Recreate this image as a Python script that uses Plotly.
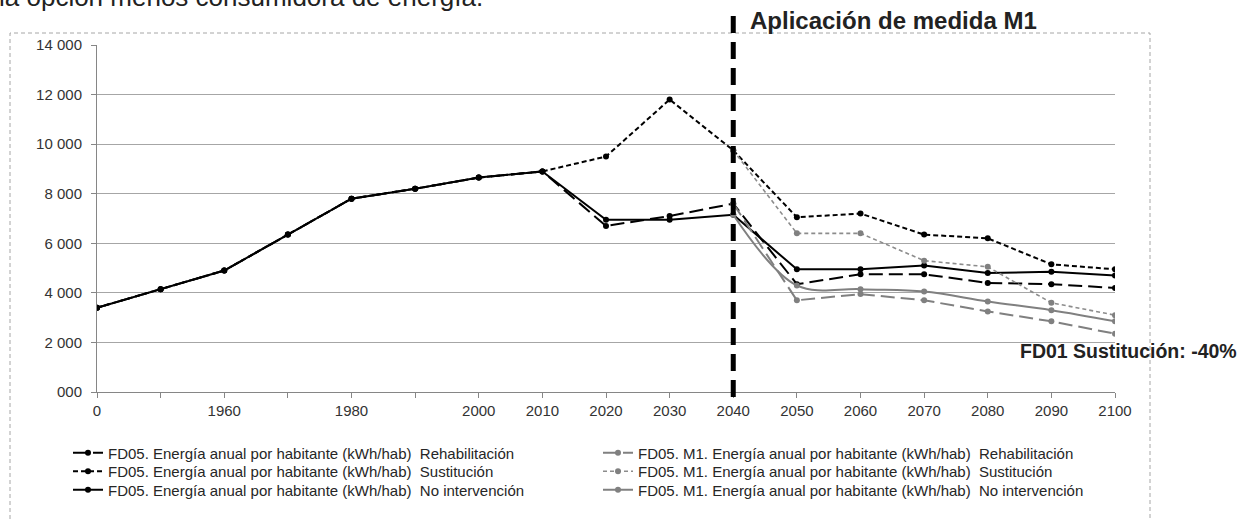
import plotly.graph_objects as go

# ---------------- data ----------------
labels = ["0", "", "1960", "", "1980", "", "2000", "2010", "2020", "2030",
          "2040", "2050", "2060", "2070", "2080", "2090", "2100"]

fd05_rehab = [3400, 4150, 4900, 6350, 7800, 8200, 8650, 8900, 6700, 7100,
              7600, 4350, 4750, 4750, 4400, 4350, 4200]
fd05_sust = [3400, 4150, 4900, 6350, 7800, 8200, 8650, 8900, 9500, 11800,
             9750, 7050, 7200, 6350, 6200, 5150, 4950]
fd05_noint = [3400, 4150, 4900, 6350, 7800, 8200, 8650, 8900, 6950, 6950,
              7150, 4950, 4950, 5100, 4800, 4850, 4700]

m1_start = "2040"
m1_rehab = [7600, 3700, 3950, 3700, 3250, 2850, 2350]
m1_sust = [9750, 6400, 6400, 5300, 5050, 3600, 3100]
m1_noint = [7150, 4300, 4150, 4050, 3650, 3300, 2850]

y_ticks = [0, 2000, 4000, 6000, 8000, 10000, 12000, 14000]
y_ticktext = ["000", "2 000", "4 000", "6 000", "8 000", "10 000", "12 000", "14 000"]

name_base = "FD05. Energía anual por habitante (kWh/hab)  "
name_m1 = "FD05. M1. Energía anual por habitante (kWh/hab)  "

# ---------------- figure ----------------
FONT = "Arial, Liberation Sans, sans-serif"
W, H = 1249, 519
L, R, T, B = 97, 134, 45, 127
pw, ph = W - L - R, H - T - B


def px_x(p):
    return (p - L) / pw


def px_y(p):
    return (H - B - p) / ph


x_all = list(range(len(labels)))
i0 = labels.index(m1_start)
x_m1 = x_all[i0:i0 + len(m1_rehab)]

BLACK = "#000000"
GREY = "#808080"

fig = go.Figure()

fig.add_trace(go.Scatter(x=x_all, y=fd05_rehab, mode="lines+markers",
                         name=name_base + "Rehabilitación", legend="legend",
                         line=dict(color=BLACK, width=2, dash="14px,6px"),
                         marker=dict(color=BLACK, size=6)))
fig.add_trace(go.Scatter(x=x_all, y=fd05_sust, mode="lines+markers",
                         name=name_base + "Sustitución", legend="legend2",
                         line=dict(color=BLACK, width=2, dash="5px,3px"),
                         marker=dict(color=BLACK, size=6)))
fig.add_trace(go.Scatter(x=x_all, y=fd05_noint, mode="lines+markers",
                         name=name_base + "No intervención", legend="legend3",
                         line=dict(color=BLACK, width=2),
                         marker=dict(color=BLACK, size=6)))

fig.add_trace(go.Scatter(x=x_m1, y=m1_rehab, mode="lines+markers",
                         name=name_m1 + "Rehabilitación", legend="legend4",
                         line=dict(color=GREY, width=2, dash="14px,6px"),
                         marker=dict(color=GREY, size=6)))
fig.add_trace(go.Scatter(x=x_m1, y=m1_sust, mode="lines+markers",
                         name=name_m1 + "Sustitución", legend="legend5",
                         line=dict(color="#8c8c8c", width=1.6, dash="4px,3px"),
                         marker=dict(color=GREY, size=6)))
fig.add_trace(go.Scatter(x=x_m1, y=m1_noint, mode="lines+markers",
                         name=name_m1 + "No intervención", legend="legend6",
                         line=dict(color=GREY, width=2, shape="spline", smoothing=1.0),
                         marker=dict(color=GREY, size=6)))

legend_common = dict(orientation="v", yanchor="middle", xanchor="left",
                     font=dict(family=FONT, size=15, color="#262626"),
                     bgcolor="rgba(0,0,0,0)", itemwidth=30)

rows_y = [453, 471.5, 490]
col_x = [68, 598]
legend_layout = {}
k = 1
for cx in col_x:
    for ry in rows_y:
        key = "legend" if k == 1 else f"legend{k}"
        legend_layout[key] = dict(x=px_x(cx), y=px_y(ry), **legend_common)
        k += 1

fig.update_layout(
    width=W, height=H,
    margin=dict(l=L, r=R, t=T, b=B),
    paper_bgcolor="white", plot_bgcolor="white",
    font=dict(family=FONT, size=15, color="#333333"),
    showlegend=True,
    xaxis=dict(range=[0, len(labels) - 1], tickmode="array", tickvals=x_all,
               ticktext=labels, showgrid=False, zeroline=False,
               showline=True, linecolor="#868686", linewidth=1,
               ticks="outside", ticklen=5, tickcolor="#868686",
               ticklabelstandoff=0,
               tickfont=dict(family=FONT, size=15, color="#333333")),
    yaxis=dict(range=[0, 14000], tickmode="array", tickvals=y_ticks,
               ticktext=y_ticktext, showgrid=True, gridcolor="#a6a6a6",
               gridwidth=1, zeroline=False, showline=True,
               linecolor="#868686", linewidth=1, ticks="outside", ticklen=5,
               tickcolor="#868686", ticklabelstandoff=6,
               tickfont=dict(family=FONT, size=15, color="#333333")),
    **legend_layout,
)

# dashed outer border of the chart area
fig.add_shape(type="rect", xref="paper", yref="paper",
              x0=px_x(10), x1=px_x(1150), y0=px_y(540), y1=px_y(33),
              line=dict(color="#a6a6a6", width=1, dash="4px,3px"),
              fillcolor="rgba(0,0,0,0)", layer="below")

# vertical dashed marker at measure application year
x_line = i0 / (len(labels) - 1)
fig.add_shape(type="line", xref="paper", yref="paper",
              x0=x_line, x1=x_line, y0=px_y(16), y1=px_y(401),
              line=dict(color="black", width=5, dash="17px,9px"))

fig.add_annotation(xref="paper", yref="paper", x=px_x(748), y=px_y(21),
                   xanchor="left", yanchor="middle", showarrow=False,
                   text="Aplicación de medida M1",
                   font=dict(family=FONT, size=24, color="#222222", weight="bold"))

fig.add_annotation(xref="paper", yref="paper", x=px_x(1018), y=px_y(351),
                   xanchor="left", yanchor="middle", showarrow=False,
                   text="FD01 Sustitución: -40%",
                   font=dict(family=FONT, size=19.5, color="#222222", weight="bold"))

fig.add_annotation(xref="paper", yref="paper", x=px_x(-3), y=px_y(-3),
                   xanchor="left", yanchor="middle", showarrow=False,
                   text="la opción menos consumidora de energía.",
                   font=dict(family=FONT, size=26, color="#222222"))

fig.write_html("out.html",
               config={"displayModeBar": False},
               post_script="document.body.style.margin='0px';document.body.style.padding='0px';")
